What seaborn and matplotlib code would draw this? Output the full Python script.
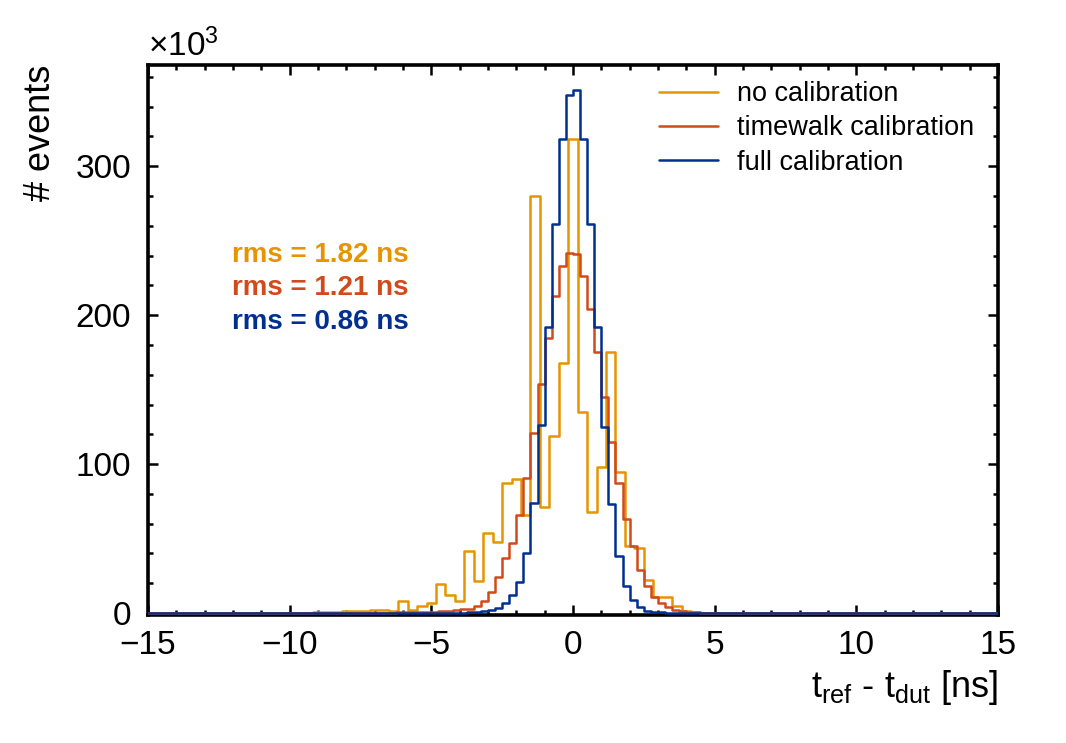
import numpy as np
import pandas as pd
import matplotlib
matplotlib.use("Agg")
import matplotlib.pyplot as plt
import seaborn as sns

sns.set_style("ticks")
plt.rcParams['font.family'] = ['Liberation Sans', 'DejaVu Sans']
plt.rcParams['mathtext.fontset'] = 'custom'
plt.rcParams['mathtext.rm'] = 'Liberation Sans'
plt.rcParams['mathtext.it'] = 'Liberation Sans:italic'
for key in ['text.color', 'axes.labelcolor', 'xtick.color', 'ytick.color',
            'axes.edgecolor']:
    plt.rcParams[key] = 'black'

# histogram contents, in units of 10^3 events
# no calibration: bins of 1/3 ns, centred on k/3 ns
orange_k = np.arange(-27, 15)
orange_counts = [0.8, 1.0, 1.0, 1.2, 1.5, 1.5, 2.0, 2.0, 1.2, 8.2, 2.3, 4.5, 6.7,
                 19.4, 12.3, 8.2, 41.7, 21.2, 54, 48, 87, 90, 66, 280, 71, 119,
                 168, 318, 135, 68, 98, 175, 95, 45, 44, 22, 11, 10.5, 4.5, 1.2,
                 0.6, 0.3]

# timewalk calibration: bins of 0.25 ns, bin j covers [j/4, (j+1)/4]
red_j = np.arange(-26, 19)
red_counts = [0.3, 0.4, 0.5, 0.6, 0.7, 0.8, 1.0, 1.2, 1.5, 2.0, 2.5, 3.0, 4.5,
              8, 14, 24, 37, 47, 66, 91, 121, 154, 185, 213, 233, 242, 241,
              226, 204, 175, 145, 115, 87, 63, 45, 29, 18, 11, 7, 4, 2, 1.2,
              0.7, 0.4, 0.3]

# full calibration: bins of 0.25 ns
blue_j = np.arange(-16, 13)
blue_counts = [0.3, 0.5, 0.8, 1.2, 2, 3.3, 6.7, 12, 21, 40, 74, 126, 192, 261,
               318, 348, 351, 318, 261, 192, 125, 73, 38, 18, 8.5, 4, 1.6, 0.8,
               0.4]

labels = ['no calibration', 'timewalk calibration', 'full calibration']
rms_text = ['rms = 1.82 ns', 'rms = 1.21 ns', 'rms = 0.86 ns']
colors = ['#E69500', '#D14A1C', '#00308F']

# every bin of the -15..15 range; bins without entries hold 0
all_third = np.arange(-45, 46)
all_quarter = np.arange(-60, 60)
orange_df = pd.DataFrame({'n': pd.Series(orange_counts, index=orange_k)
                          .reindex(all_third, fill_value=0)})
orange_df['t'] = all_third / 3.0
red_df = pd.DataFrame({'n': pd.Series(red_counts, index=red_j)
                       .reindex(all_quarter, fill_value=0)})
red_df['t'] = (all_quarter + 0.5) / 4.0
blue_df = pd.DataFrame({'n': pd.Series(blue_counts, index=blue_j)
                        .reindex(all_quarter, fill_value=0)})
blue_df['t'] = (all_quarter + 0.5) / 4.0

edges_third = list((np.arange(-45, 47) - 0.5) / 3.0)
edges_quarter = list(np.linspace(-15, 15, 121))

fig = plt.figure(figsize=(10.66, 7.43), dpi=100)
ax = fig.add_axes([0.1388, 0.1723, 0.7974, 0.7402])

for df, edges, col, lab in [(orange_df, edges_third, colors[0], labels[0]),
                            (red_df, edges_quarter, colors[1], labels[1]),
                            (blue_df, edges_quarter, colors[2], labels[2])]:
    sns.histplot(data=df, x='t', weights='n', bins=edges, element='step',
                 fill=False, color=col, linewidth=1.8, label=lab, ax=ax,
                 zorder=3)

ax.set_xlim(-15, 15)
ax.set_ylim(-1.3, 368)
ax.set_xticks([-15, -10, -5, 0, 5, 10, 15])
ax.set_yticks([0, 100, 200, 300])
ax.set_xticks(np.arange(-15, 16, 1), minor=True)
ax.set_yticks(np.arange(0, 368, 20), minor=True)
ax.tick_params(which='both', direction='in', top=True, right=True, width=1.8,
               labelsize=24)
ax.tick_params(axis='x', which='both', pad=11)
ax.tick_params(axis='y', which='both', pad=12)
ax.tick_params(which='major', length=7.5)
ax.tick_params(which='minor', length=3.8)
for sp in ax.spines.values():
    sp.set_linewidth(2.6)
    sp.set_zorder(2)

ax.set_xlabel(r'$\mathrm{t_{ref}}$ - $\mathrm{t_{dut}}$ [ns]', loc='right',
              fontsize=26, labelpad=5)
ax.set_ylabel('# events', loc='top', fontsize=26, labelpad=13)
ax.text(0.0, 1.004, r'$\times10^{3}$', transform=ax.transAxes, fontsize=24,
        ha='left', va='bottom')

for i, txt in enumerate(rms_text):
    ax.text(0.0988, 0.6545 - 0.0605 * i, txt, transform=ax.transAxes,
            color=colors[i], fontsize=20, fontweight='bold', va='center')

leg = ax.legend(loc='upper left', bbox_to_anchor=(0.588, 0.99), frameon=False,
                fontsize=19.5, handlelength=2.2, handletextpad=0.7,
                labelspacing=0.3, borderaxespad=0.0)

fig.savefig('out.png', dpi=100)
